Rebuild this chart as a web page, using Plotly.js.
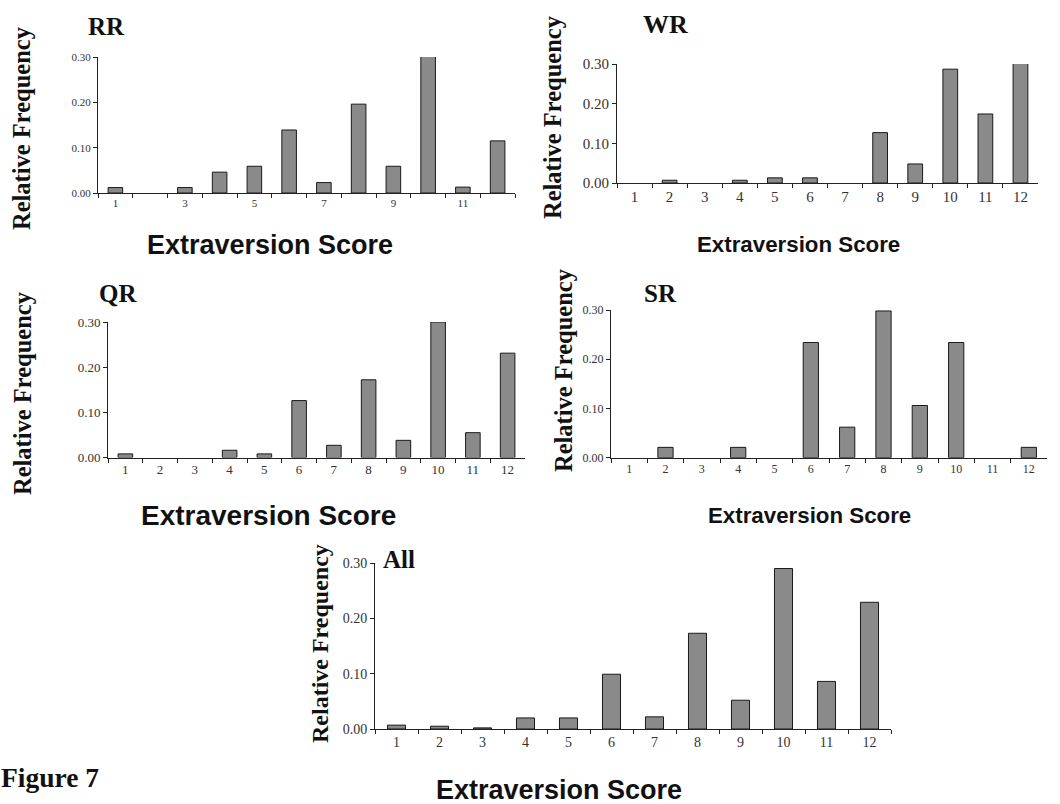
<!DOCTYPE html>
<html>
<head>
<meta charset="utf-8">
<script src="https://cdn.plot.ly/plotly-3.0.1.min.js"></script>
<style>
html,body{margin:0;padding:0;background:#fff;}
#chart{width:1060px;height:804px;}
</style>
</head>
<body>
<div id="chart"></div>
<script>
// ---- data ----
const scores = ['1','2','3','4','5','6','7','8','9','10','11','12'];
const rrTickText = ['1','','3','','5','','7','','9','','11',''];
const fullTickText = ['1','2','3','4','5','6','7','8','9','10','11','12'];
const yTickVals = [0, 0.1, 0.2, 0.3];
const panelTitles = ['RR', 'WR', 'QR', 'SR', 'All'];
const xTitle = 'Extraversion Score';
const yTitle = 'Relative Frequency';
const figureLabel = 'Figure 7';

const rrFreq  = [0.012, 0, 0.012, 0.046, 0.059, 0.139, 0.023, 0.196, 0.059, 0.305, 0.013, 0.115];
const wrFreq  = [0, 0.007, 0, 0.007, 0.013, 0.013, 0, 0.127, 0.048, 0.287, 0.174, 0.308];
const qrFreq  = [0.008, 0, 0, 0.016, 0.008, 0.126, 0.027, 0.172, 0.038, 0.300, 0.055, 0.231];
const srFreq  = [0, 0.021, 0, 0.021, 0, 0.234, 0.062, 0.298, 0.106, 0.234, 0, 0.021];
const allFreq = [0.007, 0.005, 0.002, 0.020, 0.020, 0.099, 0.022, 0.173, 0.052, 0.290, 0.086, 0.229];

// ---- layout helpers (pixel -> paper) ----
const W = 1060, H = 804;
const px = v => v / W;
const py = v => 1 - v / H;

const panels = [
  {data: rrFreq,  ticktext: rrTickText,   x: [98, 515],  y: [57, 193],    tick: 11},
  {data: wrFreq,  ticktext: fullTickText, x: [617, 1038], y: [64, 183],   tick: 15},
  {data: qrFreq,  ticktext: fullTickText, x: [108, 525], y: [322, 457.5], tick: 13},
  {data: srFreq,  ticktext: fullTickText, x: [611, 1047], y: [310, 457.7], tick: 12},
  {data: allFreq, ticktext: fullTickText, x: [375, 891], y: [563, 729],   tick: 14}
];

const serif = 'Liberation Serif';
const sans = 'Liberation Sans';
const axisColor = '#222';
const tickColor = '#333';

const traces = [];
const layout = {
  width: W, height: H,
  margin: {l: 0, r: 0, t: 0, b: 0},
  paper_bgcolor: '#fff', plot_bgcolor: '#fff',
  showlegend: false,
  bargap: 0.58,
  font: {family: serif},
  annotations: []
};

panels.forEach((p, i) => {
  const n = i === 0 ? '' : String(i + 1);
  traces.push({
    type: 'bar',
    x: scores,
    y: p.data,
    xaxis: 'x' + n,
    yaxis: 'y' + n,
    marker: {color: '#8a8a8a', line: {color: '#1a1a1a', width: p.data.map(v => v > 0 ? 1 : 0)}},
    hoverinfo: 'x+y'
  });
  layout['xaxis' + n] = {
    domain: [px(p.x[0]), px(p.x[1])],
    anchor: 'y' + n,
    type: 'category',
    tickmode: 'array',
    tickvals: scores,
    ticktext: p.ticktext,
    tickson: 'boundaries',
    ticks: 'outside', ticklen: 4, tickwidth: 1, tickcolor: axisColor,
    showline: true, linecolor: axisColor, linewidth: 1,
    showgrid: false, zeroline: false,
    tickfont: {family: serif, size: p.tick, color: tickColor},
    fixedrange: true
  };
  layout['yaxis' + n] = {
    domain: [py(p.y[1]), py(p.y[0])],
    anchor: 'x' + n,
    range: [0, 0.3],
    tickmode: 'array',
    tickvals: yTickVals,
    tickformat: '.2f',
    ticks: 'outside', ticklen: 4, tickwidth: 1, tickcolor: axisColor,
    showline: true, linecolor: axisColor, linewidth: 1,
    showgrid: false, zeroline: false,
    tickfont: {family: serif, size: p.tick, color: tickColor},
    fixedrange: true
  };
});

function ann(text, x, y, font, extra) {
  layout.annotations.push(Object.assign({
    text: text, x: px(x), y: py(y), xref: 'paper', yref: 'paper',
    showarrow: false, xanchor: 'center', yanchor: 'middle', font: font
  }, extra || {}));
}

// panel titles
const titleFont = {family: serif, size: 25, color: '#111'};
ann('<b>' + panelTitles[0] + '</b>', 86, 26, titleFont, {xanchor: 'left'});
ann('<b>' + panelTitles[1] + '</b>', 641, 25, Object.assign({}, titleFont, {size: 26}), {xanchor: 'left'});
ann('<b>' + panelTitles[2] + '</b>', 97, 293, titleFont, {xanchor: 'left'});
ann('<b>' + panelTitles[3] + '</b>', 642, 293, titleFont, {xanchor: 'left'});
ann('<b>' + panelTitles[4] + '</b>', 381, 559, titleFont, {xanchor: 'left'});

// y-axis titles
const yFont = {family: serif, size: 24.5, color: '#111'};
ann('<b>' + yTitle + '</b>', 22, 128, yFont, {textangle: -90});
ann('<b>' + yTitle + '</b>', 552, 117, yFont, {textangle: -90});
ann('<b>' + yTitle + '</b>', 22, 393, yFont, {textangle: -90});
ann('<b>' + yTitle + '</b>', 564, 370, yFont, {textangle: -90});
ann('<b>' + yTitle + '</b>', 320, 644, Object.assign({}, yFont, {size: 24}), {textangle: -90});

// x-axis titles
const xFont = {family: sans, size: 25, color: '#111'};
ann('<b>' + xTitle + '</b>', 270, 245, Object.assign({}, xFont, {size: 27}));
ann('<b>' + xTitle + '</b>', 798, 245, Object.assign({}, xFont, {size: 22.3}));
ann('<b>' + xTitle + '</b>', 268, 515, Object.assign({}, xFont, {size: 28}));
ann('<b>' + xTitle + '</b>', 809, 515, Object.assign({}, xFont, {size: 22.3}));
ann('<b>' + xTitle + '</b>', 559, 790, Object.assign({}, xFont, {size: 27}));

// figure label
ann('<b>' + figureLabel + '</b>', -1, 777, {family: serif, size: 27.5, color: '#111'}, {xanchor: 'left'});

Plotly.newPlot('chart', traces, layout, {displayModeBar: false});
</script>
</body>
</html>
